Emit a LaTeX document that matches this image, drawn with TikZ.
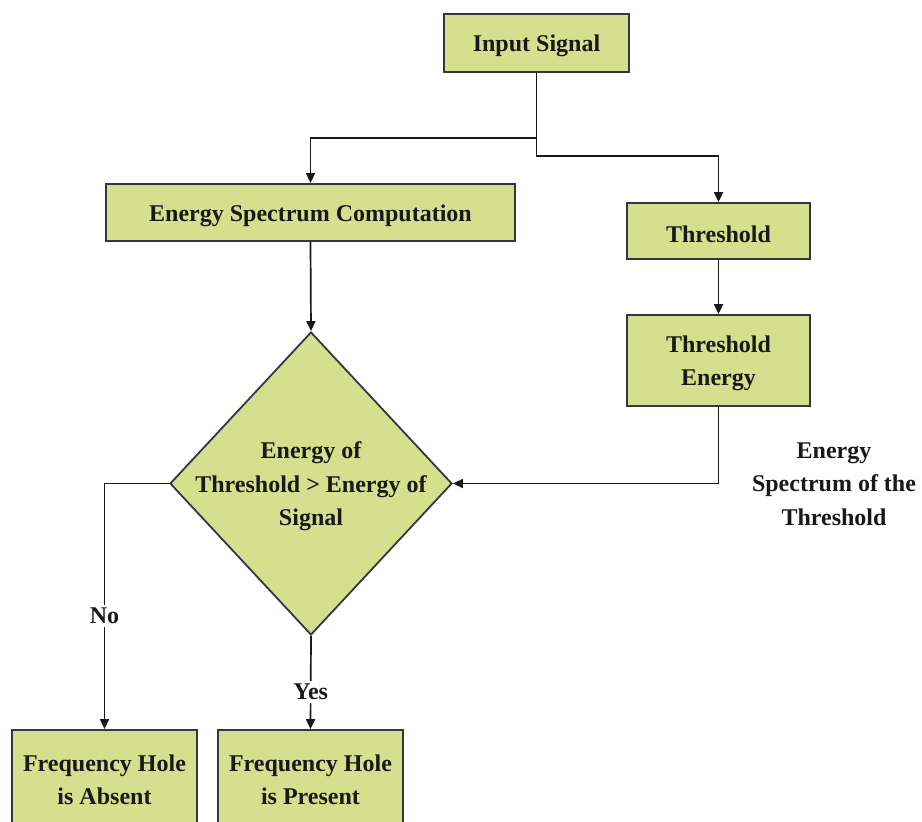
\documentclass[tikz,border=0pt]{standalone}
\usepackage{fontspec}
\setmainfont{Liberation Serif}
\usetikzlibrary{shapes.geometric,arrows.meta}
\definecolor{boxfill}{RGB}{213,224,143}
\definecolor{boxline}{RGB}{50,55,68}
\definecolor{ink}{RGB}{25,25,25}

\begin{document}
\begin{tikzpicture}[x=1pt,y=-1pt,
  font=\fontsize{24}{33.5}\selectfont\bfseries,
  every node/.style={text=ink},
  box/.style={draw=boxline, fill=boxfill, line width=1.8pt, inner sep=0pt},
  txt/.style={align=center, yshift=-3pt},
  link/.style={draw=ink, line width=1.7pt, -{Triangle[length=10pt,width=9pt]}},
  tag/.style={fill=white, inner sep=3pt}]
\useasboundingbox (0,0) rectangle (922,822);
\clip (0,0) rectangle (922,822);

% process boxes
\node[box, minimum width=185pt, minimum height=58pt] (input) at (536.5,43) {};
\node[txt] (inputtext) at (input.center) {Input Signal};
\node[box, minimum width=409pt, minimum height=57pt] (esc) at (310.5,212.5) {};
\node[txt] (esctext) at (esc.center) {Energy Spectrum Computation};
\node[box, minimum width=183pt, minimum height=56pt] (thr) at (718.5,231) {};
\node[txt] (thrtext) at (thr.center) {Threshold};
\node[box, minimum width=183pt, minimum height=91pt] (thre) at (718.5,360.5) {};
\node[txt] (thretext) at (thre.center) {Threshold\\Energy};

% decision
\node[box, shape=diamond, minimum width=282pt, minimum height=303pt] (dec) at (311,483.5) {};
\node[txt] (dectext) at (dec.center) {Energy of\\Threshold > Energy of\\Signal};

% outcomes
\node[box, minimum width=185pt, minimum height=94pt] (absent) at (104.5,777) {};
\node[txt] (absenttext) at (absent.center) {Frequency Hole\\is Absent};
\node[box, minimum width=185pt, minimum height=94pt] (present) at (310.5,777) {};
\node[txt] (presenttext) at (present.center) {Frequency Hole\\is Present};

% side label
\node[align=center] (lbl) at (834,484) {Energy\\Spectrum of the\\Threshold};

% connectors
\draw[link] (input.south) -- ++(0,65) -| (esc.north);
\draw[link] (input.south) -- ++(0,83) -| (thr.north);
\draw[link] (thr.south) -- (thre.north);
\draw[link] (esc.south) -- (dec.north);
\draw[link] (thre.south) |- (dec.east);
\draw[link] (dec.west) -| node[tag, pos=0.77] {No} (absent.north);
\draw[link] (dec.south) -- node[tag, pos=0.6] {Yes} (present.north);
\end{tikzpicture}
\end{document}
